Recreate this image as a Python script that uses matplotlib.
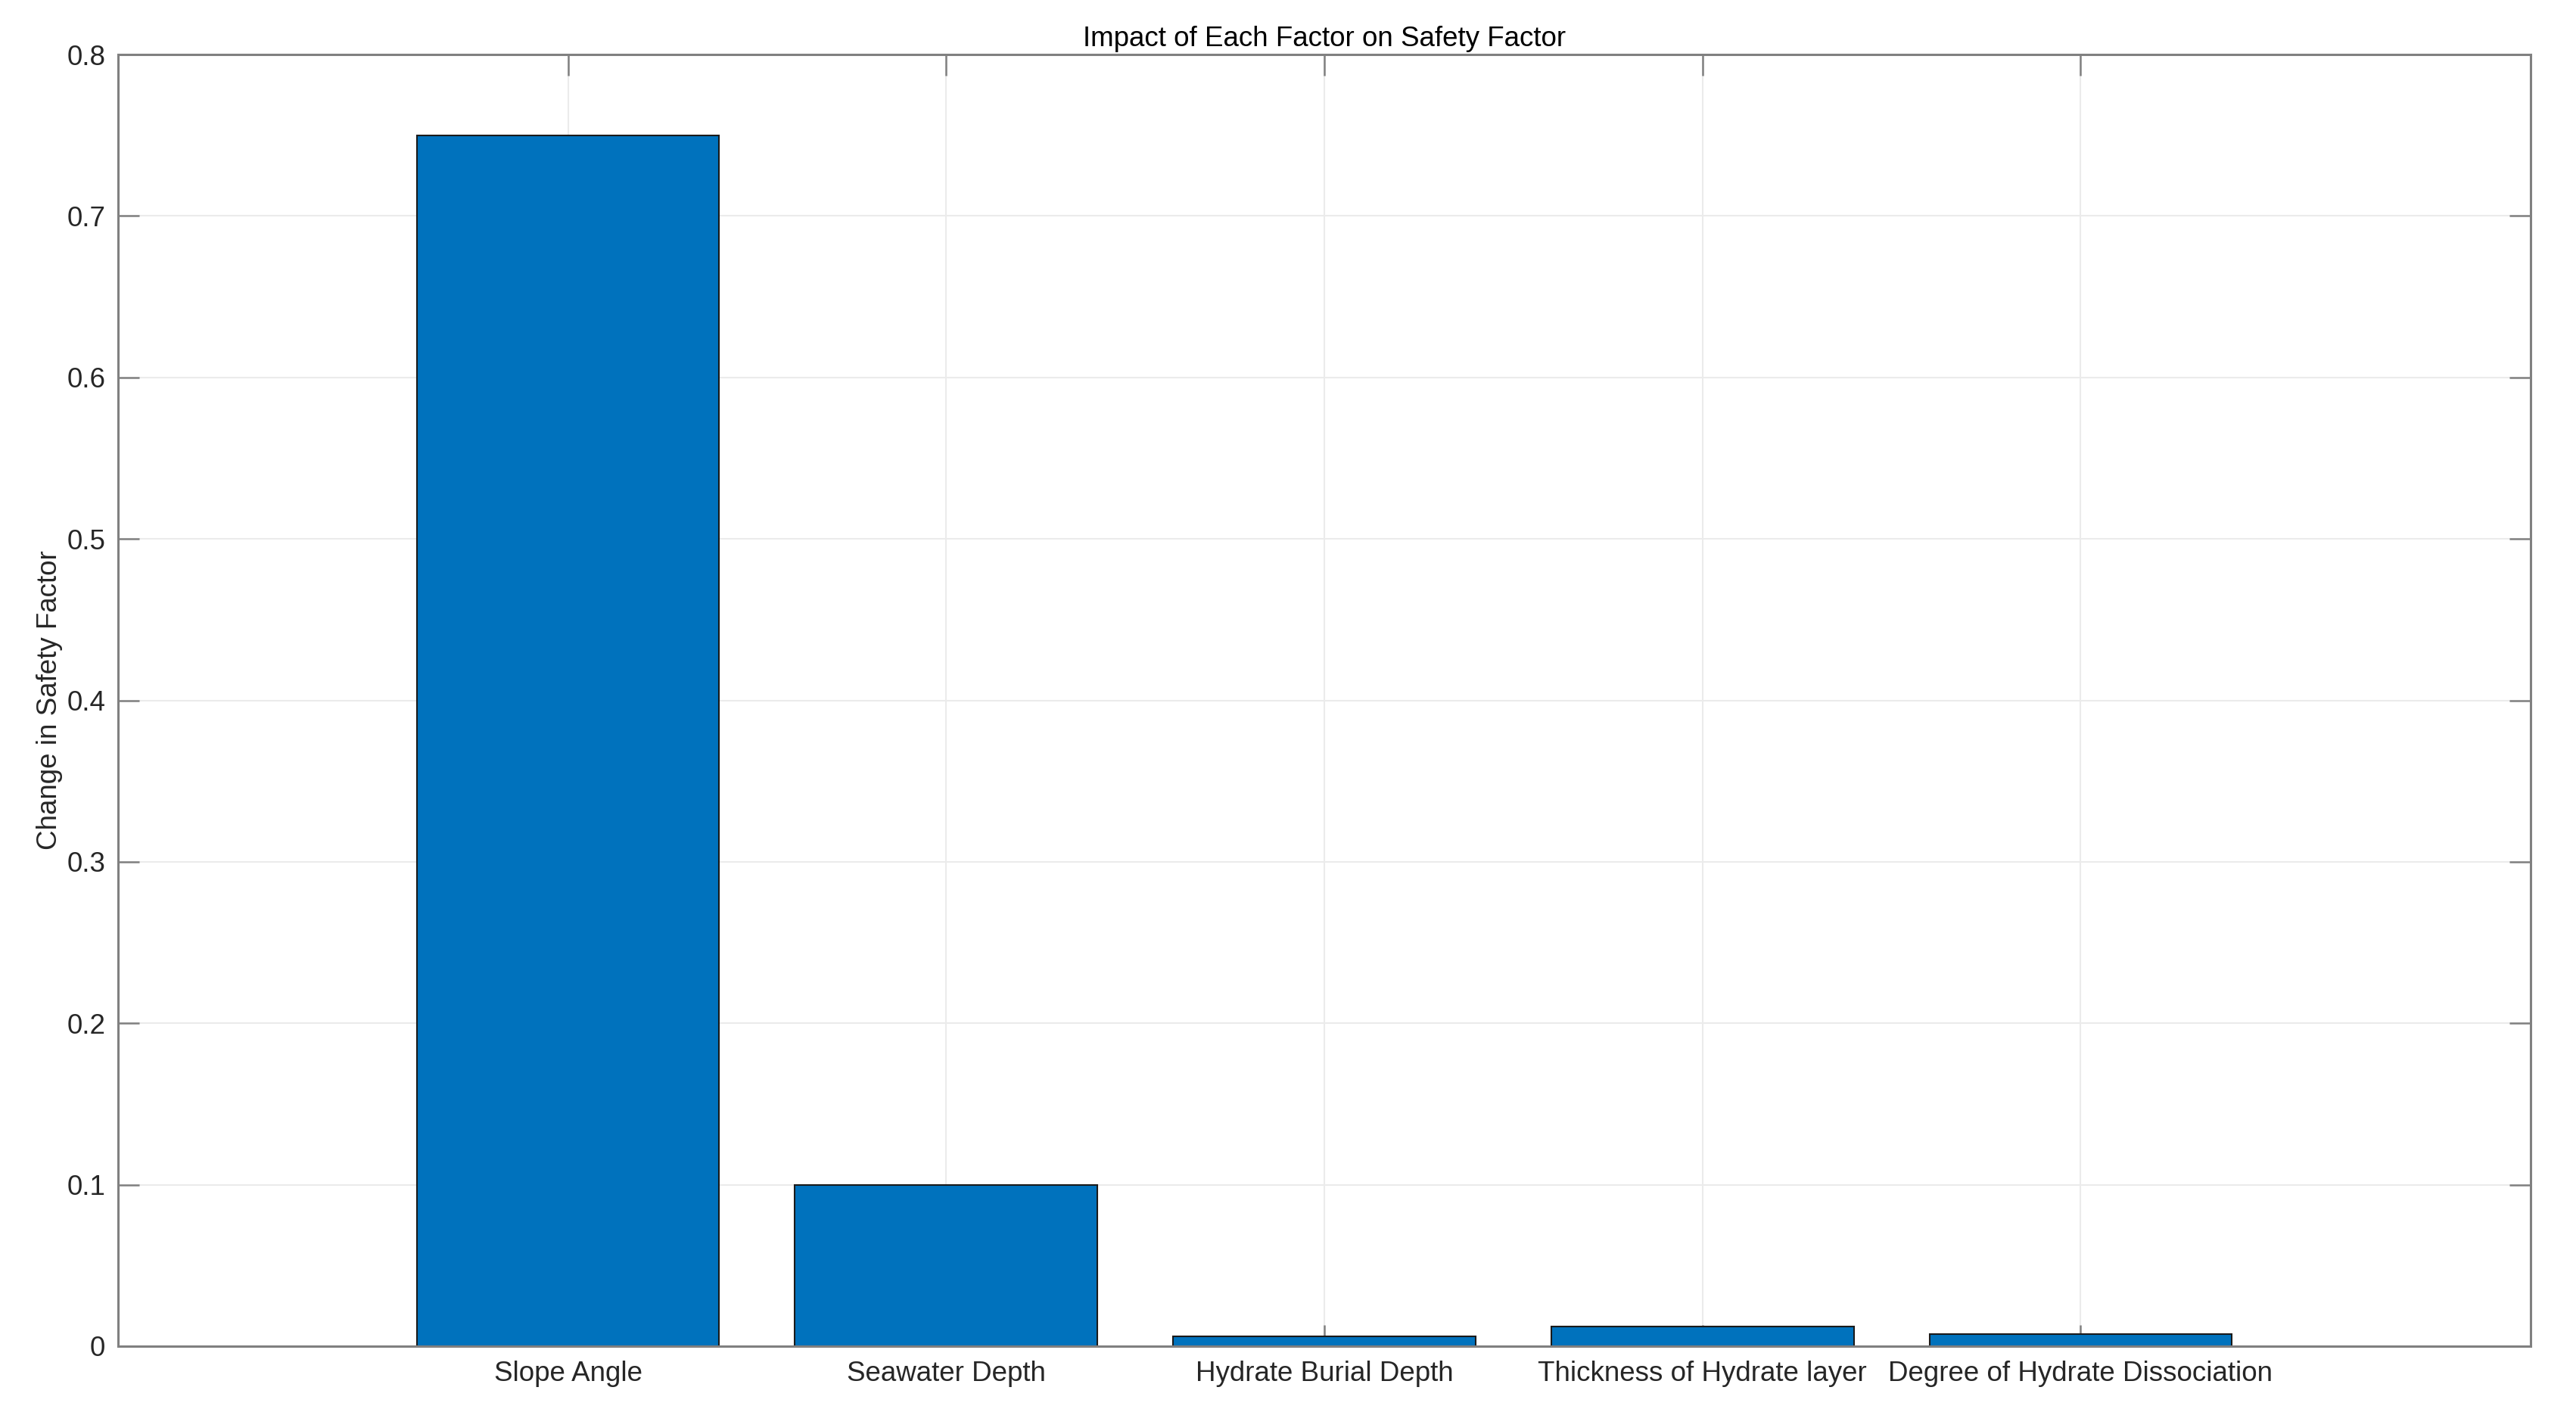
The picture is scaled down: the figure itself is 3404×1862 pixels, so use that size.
import numpy as np
import matplotlib
matplotlib.use("Agg")
from matplotlib import pyplot as plt

plt.rcParams['font.family'] = ['Liberation Sans', 'DejaVu Sans']

# data
factors = ['Slope Angle', 'Seawater Depth', 'Hydrate Burial Depth',
           'Thickness of Hydrate layer', 'Degree of Hydrate Dissociation']
changes = [0.75, 0.10, 0.006, 0.012, 0.0075]
y_ticks = [0, 0.1, 0.2, 0.3, 0.4, 0.5, 0.6, 0.7, 0.8]

fig = plt.figure(figsize=(34.05, 18.62), dpi=100)
ax = fig.add_axes([0.0458, 0.0446, 0.9821 - 0.0458, 0.9613 - 0.0446])

x = np.arange(1, len(factors) + 1)
ax.bar(x, changes, width=0.8, color='#0072BD', edgecolor='#1a1a1a', linewidth=1.5)

ax.set_xlim(-0.19, 6.19)
ax.set_ylim(0, 0.8)
ax.set_xticks(x)
ax.set_xticklabels(factors)
ax.set_yticks(y_ticks)
ax.set_yticklabels([f'{v:g}' for v in y_ticks])

ax.set_axisbelow(True)
ax.grid(True, color='#ebebeb', linewidth=1.5)

for s in ax.spines.values():
    s.set_color('#808080')
    s.set_linewidth(2.2)

ax.tick_params(axis='both', direction='in', length=20, width=1.8, color='#808080',
               labelsize=26.5, labelcolor='#262626', top=True, right=True)
ax.tick_params(axis='x', pad=14)
ax.tick_params(axis='y', pad=12)

ax.set_title('Impact of Each Factor on Safety Factor', fontsize=26.5, pad=8, color='black')
ax.set_ylabel('Change in Safety Factor', fontsize=26.5, color='#262626', labelpad=4)

fig.savefig('out.png', dpi=100)
